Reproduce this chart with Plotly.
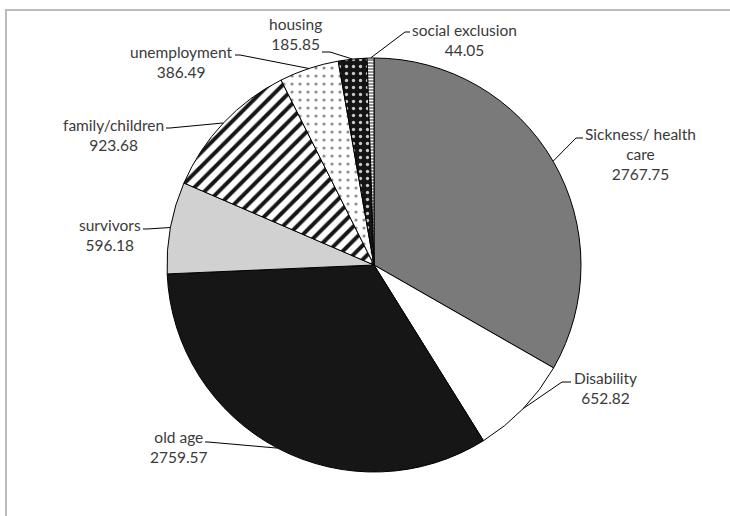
import math
import plotly.graph_objects as go

# Social protection expenditure by function
categories = ["Sickness/ health care", "Disability", "old age", "survivors",
              "family/children", "unemployment", "housing", "social exclusion"]
values = [2767.75, 652.82, 2759.57, 596.18, 923.68, 386.49, 185.85, 44.05]
label_lines = [["Sickness/ health", "care"], ["Disability"], ["old age"], ["survivors"],
               ["family/children"], ["unemployment"], ["housing"], ["social exclusion"]]

W, H = 730, 516
CX, CY, R = 374, 265, 207  # pie centre and radius in pixels

# slice fills: base colour, pattern shape, pattern colour, tile size, solidity
fills = {
    "bg":       ["#7a7a7a", "#ffffff", "#161616", "#d0d1d0", "#ffffff", "#ffffff", "#141414", "#8a8a8a"],
    "shape":    ["", "", "", "", "/", ".", ".", "-"],
    "fg":       ["#000000", "#000000", "#000000", "#000000", "#161616", "#8c8c8c", "#c8c8c8", "#ffffff"],
    "size":     [8, 8, 8, 8, 10, 8, 7, 3],
    "solidity": [0.3, 0.3, 0.3, 0.3, 0.4, 0.12, 0.18, 0.4],
}

# label placement: text centre (px), leader elbow (px), leader end (px)
label_pos = [
    {"text": (640, 154), "elbow": (576, 138), "end": (583, 138)},
    {"text": (605, 388), "elbow": (562, 382), "end": (571, 382)},
    {"text": (179, 447), "elbow": (208, 442), "end": (205, 442)},
    {"text": (110, 235), "elbow": (147, 229), "end": (143, 229)},
    {"text": (113, 135), "elbow": (170, 128), "end": (166, 128)},
    {"text": (181, 62), "elbow": (240, 55), "end": (235, 55)},
    {"text": (295, 34), "elbow": (330, 52), "end": (322, 52)},
    {"text": (464, 40), "elbow": (405, 32), "end": (410, 32)},
]


def px(x):
    return x / W


def py(y):
    return 1 - y / H


fig = go.Figure(go.Pie(
    labels=categories,
    values=values,
    sort=False,
    direction="clockwise",
    rotation=0,
    textinfo="none",
    hoverinfo="label+value",
    domain=dict(x=[px(CX - R), px(CX + R)], y=[py(CY + R), py(CY - R)]),
    marker=dict(
        colors=fills["bg"],
        line=dict(color="#000000", width=1),
        pattern=dict(
            shape=fills["shape"],
            fgcolor=fills["fg"],
            bgcolor=fills["bg"],
            size=fills["size"],
            solidity=fills["solidity"],
            fillmode="replace",
        ),
    ),
    showlegend=False,
))

total = sum(values)
shapes = []
annotations = []
cum = 0.0
for name, val, lines, pos in zip(categories, values, label_lines, label_pos):
    mid = (cum + val / 2) / total * 2 * math.pi
    cum += val
    sx = CX + R * math.sin(mid)
    sy = CY - R * math.cos(mid)
    ex, ey = pos["elbow"]
    tx, ty = pos["end"]
    shapes.append(dict(type="path", xref="paper", yref="paper",
                       path=f"M {px(sx)} {py(sy)} L {px(ex)} {py(ey)} L {px(tx)} {py(ty)}",
                       line=dict(color="#000000", width=1)))
    text = "<br>".join(lines + [f"{val:.2f}"])
    annotations.append(dict(x=px(pos["text"][0]), y=py(pos["text"][1]),
                            xref="paper", yref="paper", text=text, showarrow=False,
                            xanchor="center", yanchor="middle", align="center",
                            font=dict(family="Lato", size=15.5, color="#3a3a3a")))

# chart frame
shapes.append(dict(type="path", xref="paper", yref="paper",
                   path=f"M {px(6)} {py(H + 5)} L {px(6)} {py(10)} L {px(W + 5)} {py(10)}",
                   line=dict(color="#bcbcbc", width=2)))

fig.update_layout(
    width=W, height=H,
    margin=dict(l=0, r=0, t=0, b=0),
    paper_bgcolor="#ffffff",
    plot_bgcolor="#ffffff",
    shapes=shapes,
    annotations=annotations,
)

fig.write_html("out.html")
